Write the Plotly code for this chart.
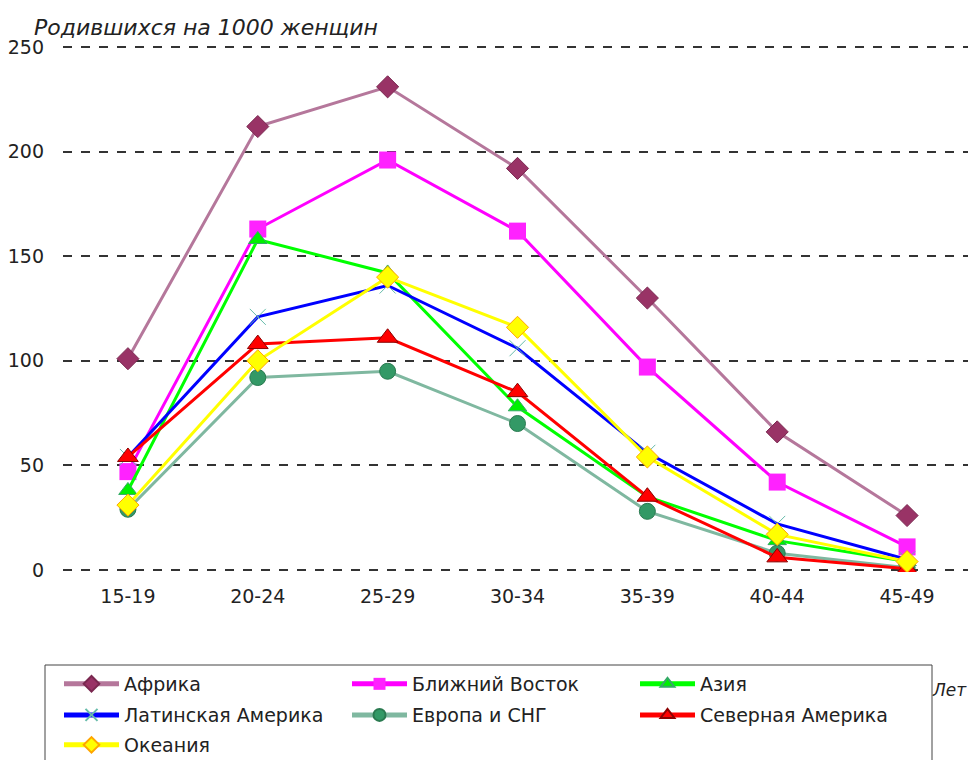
import plotly.graph_objects as go

ages = ["15-19", "20-24", "25-29", "30-34", "35-39", "40-44", "45-49"]

africa = [101, 212, 231, 192, 130, 66, 26]
middle_east = [47, 163, 196, 162, 97, 42, 11]
asia = [38, 158, 142, 78, 35, 14, 4]
latin_america = [54, 121, 136, 106, 56, 22, 5]
europe_cis = [29, 92, 95, 70, 28, 8, 1]
north_america = [54, 108, 111, 85, 35, 6, 0.5]
oceania = [31, 100, 140, 116, 54, 17, 4]

series = [
    ("Африка", africa, "#B5779B", dict(symbol="diamond", size=17, color="#993366", line=dict(color="#7A2850", width=1)), "legend"),
    ("Ближний Восток", middle_east, "#FF00FF", dict(symbol="square", size=17, color="#FF22FF", line=dict(color="#FF00FF", width=0)), "legend"),
    ("Азия", asia, "#00FF00", dict(symbol="triangle-up", size=16, color="#00F000", line=dict(color="#33AA66", width=1)), "legend"),
    ("Латинская Америка", latin_america, "#0000FF", dict(symbol="x-thin", size=16, color="#66BBAA", line=dict(color="#66BBAA", width=1)), "legend2"),
    ("Европа и СНГ", europe_cis, "#7FB8A0", dict(symbol="circle", size=16, color="#339966", line=dict(color="#2A7A50", width=1)), "legend2"),
    ("Северная Америка", north_america, "#FF0000", dict(symbol="triangle-up", size=18, color="#FF0000", line=dict(color="#8B0000", width=1)), "legend2"),
    ("Океания", oceania, "#FFFF00", dict(symbol="diamond", size=17, color="#FFFF00", line=dict(color="#FFA500", width=1)), "legend3"),
]

fig = go.Figure()
for name, vals, lc, mk, lg in series:
    fig.add_trace(go.Scatter(
        x=ages, y=vals, name=name, mode="lines+markers",
        line=dict(color=lc, width=3), marker=mk, legend=lg,
    ))

font_family = "DejaVu Sans, Verdana, sans-serif"
fs = 19


def row_legend(y):
    return dict(
        orientation="h",
        x=-0.0044, y=y, xanchor="left", yanchor="middle",
        bgcolor="rgba(0,0,0,0)", borderwidth=0,
        entrywidth=218, entrywidthmode="pixels",
        itemwidth=55, itemsizing="constant",
        font=dict(family=font_family, size=fs, color="#222222"),
        traceorder="normal",
    )


fig.update_layout(
    width=976, height=760,
    paper_bgcolor="white", plot_bgcolor="white",
    margin=dict(l=55, r=12, t=37, b=196, autoexpand=False),
    font=dict(family=font_family, size=fs, color="#222222"),
    showlegend=True,
    legend=row_legend(-0.2125),
    legend2=row_legend(-0.2714),
    legend3=row_legend(-0.3283),
    xaxis=dict(
        type="category", showgrid=False, showline=False, zeroline=False,
        ticks="", tickfont=dict(size=fs), ticklabelstandoff=11,
        range=[-0.5, 6.5],
    ),
    yaxis=dict(
        range=[-1, 251], tickvals=[0, 50, 100, 150, 200, 250], showgrid=True,
        gridcolor="#333333", griddash="dash", gridwidth=1.5,
        zeroline=False, showline=False, ticks="",
        tickfont=dict(size=fs), ticklabelstandoff=18,
    ),
    shapes=[
        dict(type="rect", xref="paper", yref="paper",
             x0=-0.0198, x1=0.956, y0=-0.1765, y1=-0.42,
             line=dict(color="#444444", width=1), fillcolor="rgba(0,0,0,0)",
             layer="below"),
    ],
    annotations=[
        dict(text="<i>Родившихся на 1000 женщин</i>", xref="paper", yref="paper",
             x=-0.034, y=1.034, xanchor="left", yanchor="middle", showarrow=False,
             font=dict(family=font_family, size=22, color="#222222")),
        dict(text="<i>Лет</i>", xref="paper", yref="paper",
             x=0.954, y=-0.224, xanchor="left", yanchor="middle", showarrow=False,
             font=dict(family=font_family, size=17, color="#222222")),
    ],
)

fig.write_html("out.html")
